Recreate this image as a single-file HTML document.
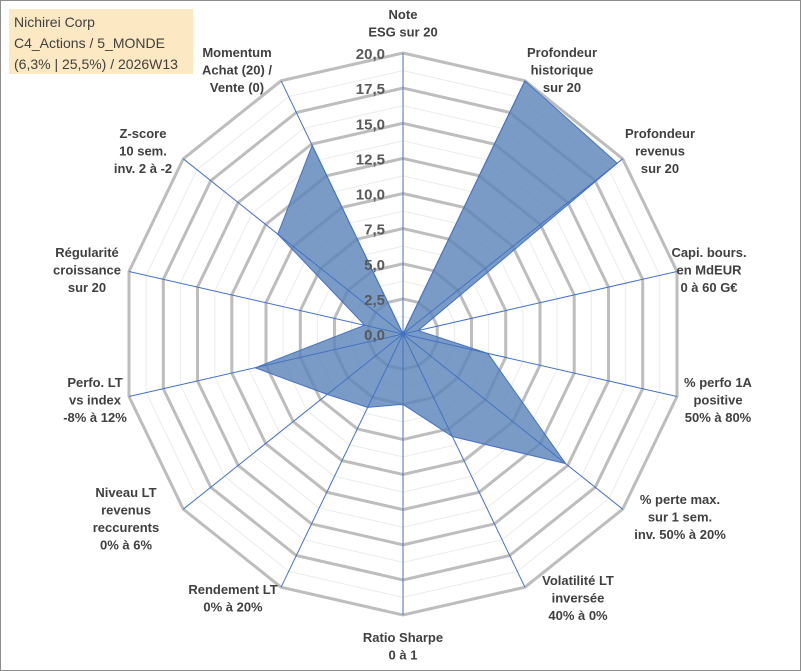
<!DOCTYPE html>
<html><head><meta charset="utf-8"><style>
body{margin:0;background:#fff;}
svg{display:block;font-family:"Liberation Sans",sans-serif;}
</style></head><body>
<svg id="chart" width="801" height="671" viewBox="0 0 801 671">
<rect x="0.5" y="0.5" width="800" height="670" fill="#fff" stroke="#8c8c8c"/>
<rect x="9" y="9" width="184" height="65" fill="#fce8c3"/>
<text font-size="14" fill="#404040"><tspan x="14" y="27">Nichirei Corp</tspan><tspan x="14" y="48">C4_Actions / 5_MONDE</tspan><tspan x="14" y="69">(6,3% | 25,5%) / 2026W13</tspan></text>
<g id="grid"></g><g id="series"></g><g id="ticks"></g><g id="labels"></g>
</svg>
<script>
const categories=[["Note","ESG sur 20"],["Profondeur","historique","sur 20"],["Profondeur","revenus","sur 20"],["Capi. bours.","en MdEUR","0 à 60 G€"],["% perfo 1A","positive","50% à 80%"],["% perte max.","sur 1 sem.","inv. 50% à 20%"],["Volatilité LT","inversée","40% à 0%"],["Ratio Sharpe","0 à 1"],["Rendement LT","0% à 20%"],["Niveau LT","revenus","reccurents","0% à 6%"],["Perfo. LT","vs index","-8% à 12%"],["Régularité","croissance","sur 20"],["Z-score","10 sem.","inv. 2 à -2"],["Momentum","Achat (20) /","Vente (0)"]];
const values=[0,20,19.5,1.1,6.2,14.8,8.1,5.0,5.8,6.9,10.8,2.8,11.4,14.9];
const tickLabels=["0,0","2,5","5,0","7,5","10,0","12,5","15,0","17,5","20,0"];
const tickValues=[0,2.5,5,7.5,10,12.5,15,17.5,20];
const maxV=20, cx=403, cy=334, R=281, N=categories.length;
const NS="http://www.w3.org/2000/svg";
function ang(i){return 2*Math.PI*i/N;}
function px(i,v){return cx+R*(v/maxV)*Math.sin(ang(i));}
function py(i,v){return cy-R*(v/maxV)*Math.cos(ang(i));}
function mk(t,a,p){const e=document.createElementNS(NS,t);for(const k in a)e.setAttribute(k,a[k]);p.appendChild(e);return e;}
const grid=document.getElementById('grid');
for(let m=1;m<=16;m++){const v=m*1.25;let pts=[];for(let i=0;i<N;i++)pts.push(px(i,v).toFixed(1)+","+py(i,v).toFixed(1));
 const major=m%2===0;
 const r=mk('polygon',{points:pts.join(' '),fill:'none',stroke:major?'#bdbdbd':'#ebebeb','stroke-width':major?3:1},grid);
 
 }
const ser=document.getElementById('series');
let pts=[];for(let i=0;i<N;i++)pts.push(px(i,values[i]).toFixed(1)+","+py(i,values[i]).toFixed(1));
const poly=mk('polygon',{points:pts.join(' '),fill:'#5b85ba','fill-opacity':0.82,stroke:'#4472c4','stroke-width':1},ser);


for(let i=0;i<N;i++){const l=mk('line',{x1:cx,y1:cy,x2:px(i,maxV),y2:py(i,maxV),stroke:'#4472c4','stroke-width':1},ser);
 
 }
const tk=document.getElementById('ticks');
tickValues.forEach((v,j)=>{const t=mk('text',{x:385,y:cy-R*v/maxV+6,'text-anchor':'end','font-size':15,'font-weight':'bold',fill:'#595959'},tk);t.textContent=tickLabels[j];
 
 });
const lab=document.getElementById('labels');
const pos=[[403,14],[562,52],[660,133],[709,252],[718,382],[680,499],[578,580],[403,637],[233,589],[126,492],[95,382],[87,252],[143,133],[237,52]];
categories.forEach((c,i)=>{const t=mk('text',{'text-anchor':'middle','font-size':13,'font-weight':'bold',fill:'#404040'},lab);
 
 
 c.forEach((s,k)=>{const ts=mk('tspan',{x:pos[i][0],y:pos[i][1]+k*17.5+5},t);ts.textContent=s;});});
</script>
</body></html>
